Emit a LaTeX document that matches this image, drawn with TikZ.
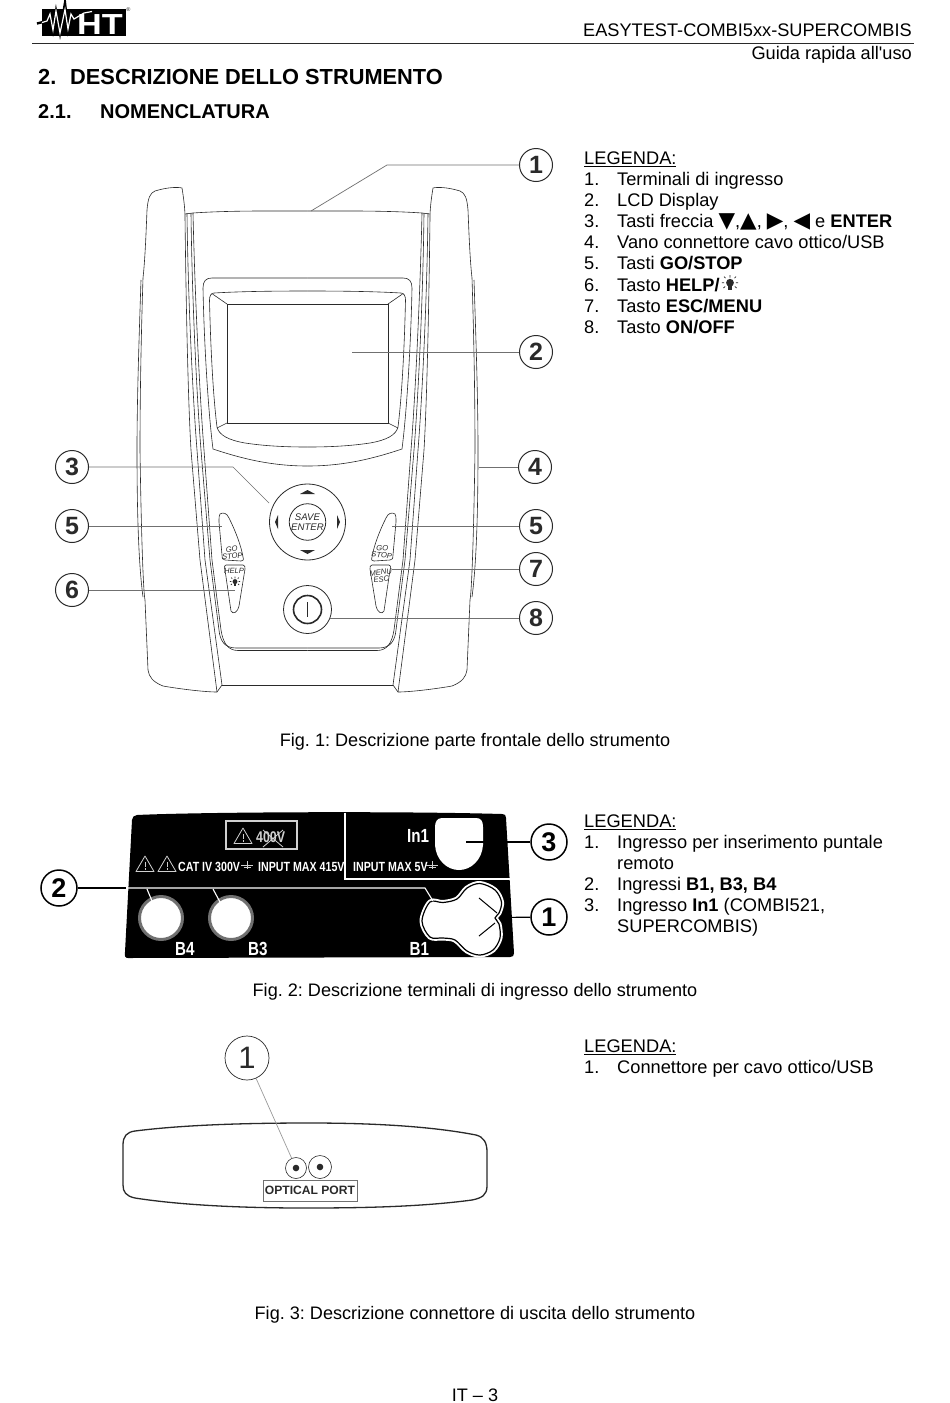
\documentclass[tikz,border=0pt]{standalone}
\usepackage{fontspec}
\usepackage{xcolor}
\setmainfont{Liberation Sans}[Ligatures=TeXOff]
\setsansfont{Liberation Sans}[Ligatures=TeXOff]
\newfontfamily\narrowfont{Liberation Sans}[FakeStretch=.80,Ligatures=TeXOff]
\newfontfamily\logofont{Liberation Sans}[FakeStretch=1.18]
\newfontfamily\symfont{DejaVu Sans}
\usetikzlibrary{calc}
\frenchspacing
\definecolor{ink}{HTML}{2A2A2A}
\definecolor{lead}{HTML}{707070}
\definecolor{paleline}{HTML}{D0D0D0}
\tikzset{
  txt/.style={anchor=base west,inner sep=0pt,font=\fontsize{18.25}{21}\selectfont,text=black},
  txtc/.style={anchor=base,inner sep=0pt,font=\fontsize{18.1}{21}\selectfont,text=black},
  outline/.style={draw=ink,line width=.6pt},
  callout/.style={circle,draw=ink,line width=1pt,minimum size=33pt,inner sep=0pt,fill=white,text=ink,font=\bfseries\fontsize{25}{25}\selectfont},
  calloutb/.style={circle,draw=black,line width=1.5pt,minimum size=36pt,inner sep=0pt,fill=white,text=black,font=\bfseries\fontsize{27}{27}\selectfont},
  leadline/.style={draw=lead,line width=.7pt},
  keytxt/.style={inner sep=0pt,align=center,text=ink,font=\itshape\fontsize{7.6}{7.2}\selectfont},
  paneltxt/.style={inner sep=0pt,anchor=base west,text=white,font=\narrowfont\bfseries\fontsize{13.3}{14}\selectfont},
  bigpanel/.style={paneltxt,font=\narrowfont\bfseries\fontsize{19}{19}\selectfont},
  whiteline/.style={draw=white,line width=1.1pt}
}
\newcommand\legitem[4]{%
  \node[txt] (#1n) at (584,#2) {#3};
  \node[txt] (#1t) at (617,#2) {#4};}
\newcommand\tri[1]{{\symfont\fontsize{21.5}{21}\selectfont #1}}
\newcommand\halfdevice{%
  % wing
  \draw[outline] (141,280) .. controls (139,340) and (137,400) .. (137,450) .. controls (137,500) and (138,560) .. (143,597);
  \draw[outline] (182,188) .. controls (178,187) and (168,187) .. (155,191) .. controls (150,193) and (148,198) .. (147,210)
     .. controls (146,235) and (145,260) .. (143,278) .. controls (141,340) and (140,400) .. (140,450)
     .. controls (141,520) and (143,590) .. (145,600) -- (148,670) .. controls (149,677) and (153,682) .. (163,686)
     .. controls (180,689) and (205,692) .. (217,692) -- (222,685);
  \draw[outline] (182,188) .. controls (184,200) and (185,210) .. (185,217) .. controls (186,300) and (188,400) .. (191,450) -- (200,560) -- (217,692);
  \draw[outline] (187,213) .. controls (188,300) and (193,400) .. (197,450) -- (205,560) -- (222,685);
  \draw[outline] (191,213) .. controls (192,300) and (197,400) .. (201,450) -- (210,560) -- (219,630)
     .. controls (220,640) and (224,648) .. (236,648) -- (307.5,648);
  \draw[outline] (193,213) .. controls (195,300) and (200,400) .. (204,450) -- (212,560) -- (221,630)
     .. controls (223,643) and (228,650.5) .. (238,650.5) -- (307.5,650.5);
  \draw[outline] (185,214) -- (193,213);
  % top and bottom edges of the front panel
  \draw[outline] (193,213) .. controls (230,210.5) and (270,211) .. (307.5,211);
  \draw[outline] (222,685) -- (307.5,685);
  % bezels
  \draw[outline] (307.5,278) -- (212,278) .. controls (206,278) and (203,281) .. (203,288)
     .. controls (204,340) and (208,410) .. (213,449) .. controls (240,458) and (270,466) .. (307.5,466);
  \draw[outline] (307.5,291) .. controls (270,291) and (240,291.5) .. (214,293) .. controls (211,293) and (209.5,296) .. (209.5,300)
     .. controls (210.5,345) and (213,395) .. (217,427) .. controls (219,435) and (228,440) .. (245,443)
     .. controls (265,446) and (285,447) .. (307.5,447);
  \draw[outline] (212.5,294) -- (227,304);
  \draw[outline] (217,428) -- (227,423);
  % GO / STOP key
  \draw[outline] (220,514) .. controls (223,512) and (227,513) .. (229,518) .. controls (235,530) and (241,545) .. (243,557)
     .. controls (244,560) and (243,561) .. (241,561) -- (225,560) .. controls (222,560) and (222,558) .. (222,555) -- (219,522) .. controls (219,518) and (219,515) .. (220,514) -- cycle;
  % lower key
  \draw[outline] (226,565) -- (243,565) .. controls (245,565) and (245,567) .. (245,569) -- (239,606)
     .. controls (238,612) and (233,615) .. (231,611) -- (225,570) .. controls (224,567) and (224,565) .. (226,565) -- cycle;
}
\newcommand\lampicon[3]{%
  \begin{scope}[shift={(#1,#2)},scale=#3]
    \fill[ink] (0,-1.5) circle (2.6);
    \fill[ink] (-1.2,0) rectangle (1.2,3.5);
    \draw[ink,line width=.7pt] (-3,-4.6)--(-4,-5.6) (0,-5)--(0,-6.6) (3,-4.6)--(4,-5.6) (-3.9,-1.5)--(-5.4,-1.5) (3.9,-1.5)--(5.4,-1.5) (-3.2,1)--(-4.4,2) (3.2,1)--(4.4,2);
  \end{scope}}
\newcommand\wartri[2]{%
  \draw[paleline,line width=.8pt,line join=round] (#1-9,#2+7.5) -- (#1,#2-8) -- (#1+9,#2+7.5) -- cycle;
  \draw[paleline,line width=.9pt] (#1,#2-2) -- (#1,#2+3) (#1,#2+4) -- (#1,#2+5.5);}
\newcommand\groundsym[2]{%
  \draw[paleline,line width=.7pt] (#1,#2-5) -- (#1,#2+3) (#1-6,#2-1) -- (#1+6,#2-1) (#1-3.5,#2+1.5) -- (#1+3.5,#2+1.5);}
\newcommand\trefoilpts{(422,921) (430,902) (443,902.5) (457,899) (467,888) (480,883.5) (495,890) (501.5,902) (499,913) (495,918) (499,924) (500,938) (493,950) (480,955) (467,951) (455,940) (443,938) (430,937)}
\begin{document}
\begin{tikzpicture}[x=1pt,y=-1pt]
\useasboundingbox (0,0) rectangle (950,1403);
\fill[white] (0,0) rectangle (950,1403);

%%% header
\fill[black] (41.7,9.3) rectangle (125.5,36);
\draw[black,line width=2.4pt,line join=miter] (37,23.5) -- (47,21) -- (50,14) -- (53,30) -- (56,11) -- (60,33) -- (65,3) -- (68,29) -- (71,14) -- (74,19) -- (84,13) -- (92,11.5);
\draw[white,line width=1.2pt,line join=miter] (42,22.5) -- (47,21) -- (50,14) -- (53,30) -- (56,11) -- (60,33) -- (65,9.5) -- (68,29) -- (71,14) -- (74,19) -- (84,13) -- (92,11.5);
\node[inner sep=0pt,anchor=base,text=white] (logoht) at (100,34) {\logofont\bfseries\fontsize{29}{29}\selectfont HT};
\node[inner sep=0pt,text=ink] (logor) at (128.5,10) {\fontsize{5.5}{6}\selectfont ®};
\draw[draw=ink,line width=1pt] (32,43) -- (914,43);
\node[inner sep=0pt,anchor=base east,font=\fontsize{18.2}{21}\selectfont] (hdra) at (912,36) {EASYTEST-COMBI5xx-SUPERCOMBIS};
\node[inner sep=0pt,anchor=base east,font=\fontsize{18.2}{21}\selectfont] (hdrb) at (912,59.5) {Guida rapida all'uso};
\node[inner sep=0pt,anchor=base west,font=\bfseries\fontsize{21.8}{24}\selectfont] (h2a) at (38,84) {2.};
\node[inner sep=0pt,anchor=base west,font=\bfseries\fontsize{21.8}{24}\selectfont] (h2b) at (70,84) {DESCRIZIONE DELLO STRUMENTO};
\node[inner sep=0pt,anchor=base west,font=\bfseries\fontsize{20}{24}\selectfont] (h21a) at (38,118) {2.1.};
\node[inner sep=0pt,anchor=base west,font=\bfseries\fontsize{20}{24}\selectfont] (h21b) at (100,118) {NOMENCLATURA};

%%% legend 1
\node[txt] (lega) at (584,164.5) {\underline{LEGENDA:}};
\legitem{la}{185.5}{1.}{Terminali di ingresso}
\legitem{lb}{206}{2.}{LCD Display}
\legitem{lc}{227}{3.}{Tasti freccia \tri{▼},\tri{▲}, \tri{▶}, \tri{◀} e \textbf{ENTER}}
\legitem{ld}{248}{4.}{Vano connettore cavo ottico/USB}
\legitem{le}{269}{5.}{Tasti \textbf{GO/STOP}}
\legitem{lf}{291}{6.}{Tasto \textbf{HELP/}}
\legitem{lg}{312}{7.}{Tasto \textbf{ESC/MENU}}
\legitem{lh}{333}{8.}{Tasto \textbf{ON/OFF}}
\lampicon{730}{285}{1.5}

%%% figure 1: device
\halfdevice
\begin{scope}[shift={(615,0)},xscale=-1]
\halfdevice
\end{scope}
\draw[outline,line width=.8pt] (227,304) rectangle (388,423);

% keys
\node[circle,draw=ink,line width=.8pt,minimum size=76pt,inner sep=0pt] (dpad) at (307.5,522) {};
\node[circle,draw=ink,line width=.8pt,minimum size=33pt,inner sep=0pt,keytxt,font=\itshape\fontsize{9.6}{10}\selectfont] (save) at (307.5,522) {SAVE\\ENTER};
\fill[ink] (300,494) -- (307.5,490) -- (315,494) -- cycle;
\fill[ink] (300,550) -- (307.5,554) -- (315,550) -- cycle;
\fill[ink] (278,515) -- (278,529) -- (275,522) -- cycle;
\fill[ink] (337,515) -- (337,529) -- (340,522) -- cycle;
\node[circle,draw=ink,line width=.8pt,minimum size=48pt,inner sep=0pt] (pow) at (307.5,609.5) {};
\draw[ink,line width=1.6pt] (pow.center) circle (14);
\draw[ink,line width=1.3pt] (307.5,602) -- (307.5,617);
\node[keytxt,rotate=5] (gol) at (232,552.5) {GO\\STOP};
\node[keytxt,rotate=-5] (gor) at (382,551.5) {GO\\STOP};
\node[keytxt] (help) at (234,570.5) {HELP};
\lampicon{235}{583}{.95}
\node[keytxt,rotate=6] (menu) at (381,576) {MENU\\ESC};

% callouts
\node[callout] (c1) at (536,165) {1};
\node[callout] (c2) at (536,352) {2};
\node[callout] (c3) at (72,467) {3};
\node[callout] (c4) at (535,467) {4};
\node[callout] (c5l) at (72,526) {5};
\node[callout] (c5r) at (536,526) {5};
\node[callout] (c7) at (536,569) {7};
\node[callout] (c6) at (72,590) {6};
\node[callout] (c8) at (536,618) {8};
\coordinate (k1) at (387,165); \coordinate (e1) at (311,211);
\coordinate (e2) at (352,352);
\coordinate (k3) at (233,467); \coordinate (e3) at (269,503);
\coordinate (e4) at (479,467);
\coordinate (e5l) at (222,526);
\coordinate (e5r) at (392,526);
\coordinate (e7) at (392,569);
\coordinate (e6) at (235,590);
\coordinate (e8) at (330,618);
\draw[leadline] (c1) -- (k1) -- (e1);
\draw[leadline] (c2) -- (e2);
\draw[leadline] (c3) -- (k3) -- (e3);
\draw[leadline] (c4) -- (e4);
\draw[leadline] (c5l) -- (e5l);
\draw[leadline] (c5r) -- (e5r);
\draw[leadline] (c7) -- (e7);
\draw[leadline] (c6) -- (e6);
\draw[leadline] (c8) -- (e8);
\node[txtc] (f1) at (475,746) {Fig. 1: Descrizione parte frontale dello strumento};

%%% figure 2: terminals
\coordinate (p2a) at (126,888);
\node[calloutb] (d2) at (59,888) {2};
\draw[black,line width=1.2pt] (d2) -- (p2a);
\fill[black] (137,815) .. controls (200,812) and (400,811) .. (502,814) .. controls (505,814) and (506,815) .. (506,818)
  -- (514,953) .. controls (514,956) and (513,957) .. (510,957) -- (128,958) .. controls (125,958) and (124.5,956) .. (125,952)
  -- (132,820) .. controls (132,817) and (134,815.5) .. (137,815) -- cycle;
% divider
\draw[whiteline] (345,812.5) -- (345,879) -- (511,879);
% warning box
\draw[paleline,line width=1.4pt] (226,821) rectangle (297,849);
\wartri{243}{836}
\node[paneltxt,font=\narrowfont\bfseries\fontsize{15.5}{16}\selectfont,text=paleline] (v400) at (256,842.5) {400V};
\draw[paleline,line width=.8pt] (263,830) -- (283,847) (283,830) -- (263,847);
\wartri{145}{864}
\wartri{167}{864}
\node[paneltxt] (cat) at (178,871) {CAT IV 300V};
\groundsym{247}{866}
\node[paneltxt] (in415) at (258,871) {INPUT MAX 415V};
\node[paneltxt] (in5) at (353,871) {INPUT MAX 5V};
\groundsym{432}{866}
\node[bigpanel] (in1) at (407,842) {In1};
% In1 socket
\fill[white] (442,818) -- (476,818) .. controls (481,818) and (483,821) .. (483,827) -- (483,845)
  .. controls (482,860) and (471,870) .. (459,870) .. controls (447,870) and (436,860) .. (435,845)
  -- (435,827) .. controls (435,822) and (437,818) .. (442,818) -- cycle;
% B sockets
\draw[fill=white,draw=lead,line width=3pt] (161,918) circle (21.5);
\draw[fill=white,draw=lead,line width=3pt] (231,918) circle (21.5);
\node[bigpanel] (b4) at (175,955) {B4};
\node[bigpanel] (b3) at (248,955) {B3};
\node[bigpanel] (b1) at (409.5,955) {B1};
% trefoil
\draw[white,line width=5pt,line join=round] plot[smooth cycle,tension=.55] coordinates {\trefoilpts};
\draw[black,line width=1.2pt,fill=white] plot[smooth cycle,tension=.55] coordinates {\trefoilpts};
\draw[whiteline] (p2a) -- (425,888) -- (433,901);
\draw[whiteline] (147,889) -- (152,901);
\draw[whiteline] (213,889) -- (220,902);
\draw[black,line width=1pt] (479,898) -- (497,913) (479,936) -- (495,923);
% callouts 1, 3
\node[calloutb] (d3) at (549,842) {3};
\node[calloutb] (d1) at (549,917) {1};
\coordinate (e3b) at (466,842);
\coordinate (e1b) at (500,917.5);
\draw[black,line width=1.2pt] (d3) -- (e3b);
\draw[black,line width=1.2pt] (d1) -- (e1b);
\node[txtc] (f2) at (475,996) {Fig. 2: Descrizione terminali di ingresso dello strumento};

%%% legend 2
\node[txt] (legb) at (584,827.5) {\underline{LEGENDA:}};
\legitem{ma}{848.5}{1.}{Ingresso per inserimento puntale}
\node[txt] (mb) at (617,869) {remoto};
\legitem{mc}{890}{2.}{Ingressi \textbf{B1, B3, B4}}
\legitem{md}{911}{3.}{Ingresso \textbf{In1} (COMBI521,}
\node[txt] (me) at (617,932) {SUPERCOMBIS)};

%%% figure 3: optical port
\draw[draw=ink,line width=1.3pt] (135,1131) .. controls (190,1124) and (260,1123) .. (310,1123)
  .. controls (370,1123) and (430,1126) .. (476,1135) .. controls (484,1137) and (487,1143) .. (487,1152)
  -- (487,1186) .. controls (487,1195) and (482,1198) .. (472,1200) .. controls (420,1207) and (360,1208) .. (305,1208)
  .. controls (240,1208) and (180,1205) .. (135,1198) .. controls (126,1196) and (123,1192) .. (123,1185)
  -- (123,1145) .. controls (123,1136) and (127,1132) .. (135,1131) -- cycle;
\node[circle,draw=ink,line width=.6pt,minimum size=21pt,inner sep=0pt] (po1) at (296,1168) {};
\node[circle,draw=ink,line width=.6pt,minimum size=23pt,inner sep=0pt] (po2) at (320,1167) {};
\fill[ink] (po1) circle (3.3);
\fill[ink] (po2) circle (3.3);
\node[draw=lead,line width=.8pt,minimum width=94pt,minimum height=21pt,inner sep=0pt,text=ink,font=\bfseries\fontsize{12.1}{13}\selectfont] (oplab) at (310,1190.5) {OPTICAL PORT};
\node[circle,draw=ink,line width=.7pt,minimum size=44pt,inner sep=0pt,text=ink,font=\fontsize{31}{31}\selectfont] (g1) at (247,1058) {1};
\draw[draw=lead!70,line width=.7pt] (g1) -- (po1);
\node[txtc] (f3) at (475,1319) {Fig. 3: Descrizione connettore di uscita dello strumento};

%%% legend 3
\node[txt] (legc) at (584,1052.5) {\underline{LEGENDA:}};
\legitem{na}{1073.5}{1.}{Connettore per cavo ottico/USB}

\node[txtc] (pg) at (475,1401) {IT – 3};
\end{tikzpicture}
\end{document}
